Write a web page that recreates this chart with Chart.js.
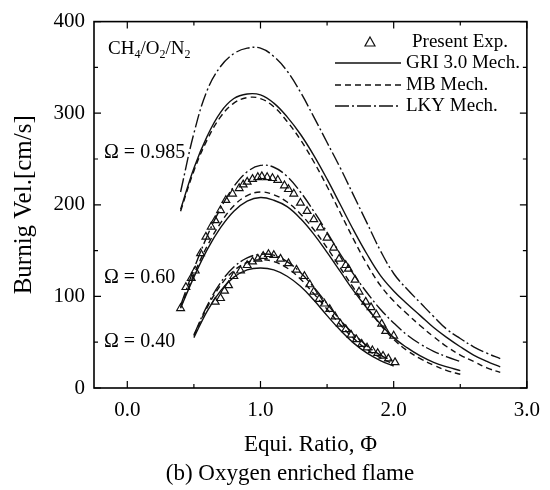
<!DOCTYPE html>
<html>
<head>
<meta charset="utf-8">
<script src="https://cdn.jsdelivr.net/npm/chart.js@4.4.1/dist/chart.umd.min.js"></script>
<style>
html,body{margin:0;padding:0;background:#fff;}
</style>
</head>
<body>
<canvas id="grafico" width="550" height="490"></canvas>
<script>
// datos (b) llama enriquecida con oxigeno
var phi985 = [0.4,0.5,0.6,0.7,0.8,0.9,1.0,1.1,1.2,1.3,1.4,1.5,1.6,1.7,1.8,1.9,2.0,2.1,2.2,2.3,2.4,2.5,2.6,2.7,2.8];
var gri985 = [195,240,275,301,316,321,320,311,296,277,254,228,200,172,146,123,106,92,79,66,55,45,36,29,23];
var mb985  = [193,237,271,296,311,317,316,307,291,271,247,220,191,162,135,112,95,81,68,56,45,36,29,22,17];
var lky985 = [214,278,325,351,365,371,371,362,346,323,296,268,240,210,180,150,125,108,93,78,64,54,45,38,32];

var phi060 = [0.4,0.5,0.6,0.7,0.8,0.9,1.0,1.1,1.2,1.3,1.4,1.5,1.6,1.7,1.8,1.9,2.0,2.1,2.2,2.3,2.4,2.5];
var gri060 = [87,121,151,175,193,204,208,205,198,185,168,148,127,106,87,70,55,44,35,28,23,19];
var mb060  = [88,124,155,180,199,210,214,211,203,190,173,153,131,109,88,69,53,41,32,25,19,15];
var lky060 = [90,130,166,196,220,236,243,241,231,214,193,170,146,124,104,86,71,58,48,40,34,29];

var phi040 = [0.5,0.6,0.7,0.8,0.9,1.0,1.1,1.2,1.3,1.4,1.5,1.6,1.7,1.8,1.9,2.0];
var gri040 = [55,84,106,121,129,131,129,122,111,96,79,63,49,38,30,24];
var mb040  = [57,88,112,128,137,140,138,131,119,103,86,69,54,42,33,26];
var lky040 = [58,90,115,132,142,146,145,138,126,110,92,74,59,46,36,29];

var phiExp060 = [0.40,0.44,0.48,0.51,0.55,0.59,0.63,0.66,0.70,0.74,0.79,0.84,0.87,0.90,0.94,0.98,1.01,1.05,1.09,1.13,1.18,1.21,1.25,1.30,1.35,1.40,1.45,1.50,1.55,1.59,1.64,1.66,1.71,1.74,1.79,1.83,1.87,1.91,1.94,2.00];
var velExp060 = [87,110,120,128,147,165,176,183,194,205,212,218,222,225,228,230,231,230,229,227,221,217,212,202,193,184,175,164,153,141,134,130,118,105,94,88,80,70,62,57];
var phiExp040 = [0.66,0.70,0.73,0.76,0.80,0.85,0.90,0.94,0.98,1.02,1.06,1.10,1.15,1.21,1.27,1.33,1.37,1.40,1.44,1.48,1.52,1.56,1.60,1.64,1.68,1.72,1.76,1.80,1.84,1.88,1.92,1.96,2.01];
var velExp040 = [94,98,106,112,122,128,134,138,141,144,146,145,141,136,129,122,113,105,97,92,86,78,70,64,58,53,48,44,41,38,35,32,28];

var ticksX = [0,1,2,3];
var ticksY = [0,100,200,300,400];
var leyenda = ["Present Exp.","GRI 3.0 Mech.","MB Mech.","LKY Mech."];
var etiquetasOmega = ["\u03A9 = 0.985","\u03A9 = 0.60","\u03A9 = 0.40"];

var serif = "'Liberation Serif','Times New Roman',serif";
var trazoMB = [6,4];
var trazoLKY = [14,3,2,3];

function puntos(xs, ys){
    return xs.map(function(x,i){ return {x:x, y:ys[i]}; });
}
function curva(xs, ys, dash){
    return {data: puntos(xs, ys), showLine:true, borderColor:'#111', borderWidth:1.4,
        borderDash: dash, pointRadius:0, tension:0.4, fill:false};
}
function experimental(xs, ys){
    return {data: puntos(xs, ys), showLine:false, pointStyle:'triangle', pointRadius:4.5,
        borderColor:'#111', borderWidth:1.2, backgroundColor:'rgba(255,255,255,0)'};
}

// marco con marcas hacia adentro
var marcoEjes = {
    id:'marcoEjes',
    afterDraw: function(chart){
        var ctx = chart.ctx, a = chart.chartArea;
        var ex = chart.scales.x, ey = chart.scales.y;
        ctx.save();
        ctx.strokeStyle = '#000';
        ctx.lineWidth = 1.6;
        ctx.strokeRect(a.left, a.top, a.right-a.left, a.bottom-a.top);
        ctx.lineWidth = 1.2;
        ctx.beginPath();
        for (var i = 0; i < ticksX.length; i++) {
            var px = ex.getPixelForValue(ticksX[i]);
            ctx.moveTo(px, a.bottom); ctx.lineTo(px, a.bottom-7);
            ctx.moveTo(px, a.top); ctx.lineTo(px, a.top+7);
            if (i < ticksX.length-1) {
                var pm = ex.getPixelForValue((ticksX[i]+ticksX[i+1])/2);
                ctx.moveTo(pm, a.bottom); ctx.lineTo(pm, a.bottom-4);
                ctx.moveTo(pm, a.top); ctx.lineTo(pm, a.top+4);
            }
        }
        for (var j = 0; j < ticksY.length; j++) {
            var py = ey.getPixelForValue(ticksY[j]);
            ctx.moveTo(a.left, py); ctx.lineTo(a.left+7, py);
            ctx.moveTo(a.right, py); ctx.lineTo(a.right-7, py);
            if (j < ticksY.length-1) {
                var qm = ey.getPixelForValue((ticksY[j]+ticksY[j+1])/2);
                ctx.moveTo(a.left, qm); ctx.lineTo(a.left+4, qm);
                ctx.moveTo(a.right, qm); ctx.lineTo(a.right-4, qm);
            }
        }
        ctx.stroke();
        ctx.restore();
    }
};

// leyenda, rotulos y pie de figura
var textos = {
    id:'textos',
    afterDraw: function(chart){
        var ctx = chart.ctx;
        ctx.save();
        ctx.fillStyle = '#000';
        ctx.strokeStyle = '#111';
        ctx.textBaseline = 'middle';
        ctx.textAlign = 'left';
        ctx.font = '19px ' + serif;
        var yl = [42,63,85,106];
        // triangulo
        ctx.lineWidth = 1.2;
        ctx.beginPath();
        ctx.moveTo(370, yl[0]-5); ctx.lineTo(375, yl[0]+4); ctx.lineTo(365, yl[0]+4); ctx.closePath();
        ctx.stroke();
        ctx.fillText(leyenda[0], 412, yl[0]);
        var estilos = [[], trazoMB, trazoLKY];
        for (var k = 0; k < 3; k++) {
            ctx.lineWidth = 1.4;
            ctx.setLineDash(estilos[k]);
            ctx.beginPath();
            ctx.moveTo(335, yl[k+1]); ctx.lineTo(401, yl[k+1]);
            ctx.stroke();
            ctx.setLineDash([]);
            ctx.fillText(leyenda[k+1], 406, yl[k+1]);
        }
        // CH4/O2/N2
        ctx.textBaseline = 'alphabetic';
        var x = 108, yb = 54;
        var partes = [["CH",0],["4",1],["/O",0],["2",1],["/N",0],["2",1]];
        partes.forEach(function(p){
            ctx.font = (p[1] ? '12px ' : '19px ') + serif;
            ctx.fillText(p[0], x, yb + (p[1] ? 4 : 0));
            x += ctx.measureText(p[0]).width;
        });
        // omegas
        ctx.font = '20px ' + serif;
        ctx.textBaseline = 'middle';
        ctx.fillText(etiquetasOmega[0], 104, 153);
        ctx.fillText(etiquetasOmega[1], 104, 278);
        ctx.fillText(etiquetasOmega[2], 104, 342);
        // pie
        ctx.font = '23px ' + serif;
        ctx.textAlign = 'center';
        ctx.fillText('(b) Oxygen enriched flame', 290, 474);
        ctx.restore();
    }
};

new Chart(document.getElementById('grafico'), {
    type:'scatter',
    data:{
        datasets:[
            curva(phi985, gri985, []), curva(phi985, mb985, trazoMB), curva(phi985, lky985, trazoLKY),
            curva(phi060, gri060, []), curva(phi060, mb060, trazoMB), curva(phi060, lky060, trazoLKY),
            curva(phi040, gri040, []), curva(phi040, mb040, trazoMB), curva(phi040, lky040, trazoLKY),
            experimental(phiExp060, velExp060), experimental(phiExp040, velExp040)
        ]
    },
    options:{
        responsive:false,
        animation:false,
        devicePixelRatio:1,
        layout:{padding:{left:0, right:16, top:15, bottom:0}},
        plugins:{legend:{display:false}, tooltip:{enabled:false}},
        scales:{
            x:{
                type:'linear', min:-0.25, max:3.0,
                grid:{display:false, drawTicks:false}, border:{display:false},
                afterBuildTicks: function(s){ s.ticks = ticksX.map(function(v){ return {value:v}; }); },
                afterFit: function(s){ s.height = 102; },
                ticks:{padding:10, color:'#000', font:{family:serif, size:21},
                    callback: function(v){ return Number(v).toFixed(1); }},
                title:{display:true, text:'Equi. Ratio, \u03A6', color:'#000',
                    font:{family:serif, size:23}, padding:{top:0, bottom:31}}
            },
            y:{
                type:'linear', min:0, max:400,
                grid:{display:false, drawTicks:false}, border:{display:false},
                afterBuildTicks: function(s){ s.ticks = ticksY.map(function(v){ return {value:v}; }); },
                afterFit: function(s){ s.width = 94; },
                ticks:{padding:9, color:'#000', font:{family:serif, size:21}},
                title:{display:true, text:'Burnig Vel.[cm/s]', color:'#000',
                    font:{family:serif, size:25}, padding:{top:9, bottom:0}}
            }
        }
    },
    plugins:[marcoEjes, textos]
});
</script>
</body>
</html>
